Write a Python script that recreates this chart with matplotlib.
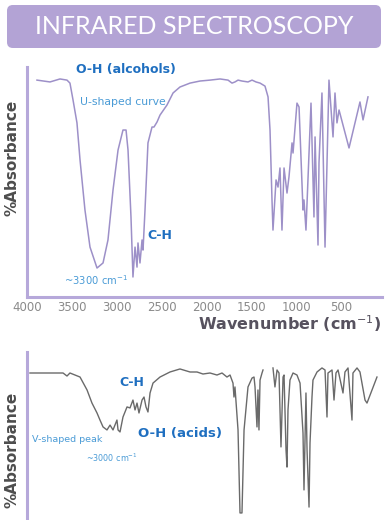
import numpy as np
import matplotlib.pyplot as plt
from matplotlib.patches import FancyBboxPatch

# alcohol spectrum (top), wavenumber in cm-1 and signal (0-100)
alc_wn = [3889, 3744, 3633, 3555, 3522, 3488, 3444, 3410, 3355, 3299,
          3221, 3154, 3099, 3043, 2987, 2932, 2898, 2876, 2843, 2821,
          2798, 2776, 2765, 2743, 2720, 2709, 2687, 2654, 2609, 2587,
          2553, 2520, 2442, 2375, 2298, 2186, 2075, 1964, 1852, 1763,
          1719, 1686, 1652, 1608, 1541, 1496, 1452, 1407, 1352, 1318,
          1296, 1274, 1263, 1229, 1207, 1185, 1163, 1140, 1107, 1085,
          1051, 1040, 996, 973, 929, 918, 896, 840, 807, 795,
          762, 751, 718, 684, 640, 595, 573, 551, 528, 417,
          295, 261, 206]
alc_abs = [94.3, 93.5, 94.8, 94.3, 93.0, 85.7, 75.7, 59.6, 37.8, 21.7,
           12.6, 14.8, 24.8, 46.5, 63.9, 72.6, 72.6, 63.9, 34.8, 8.7,
           21.7, 13.0, 23.5, 14.8, 24.8, 20.4, 37.8, 67.0, 73.9, 73.9,
           76.1, 79.1, 83.5, 88.7, 91.3, 93.0, 93.9, 94.3, 94.8, 94.3,
           93.0, 93.5, 94.3, 93.9, 93.5, 94.3, 93.5, 93.0, 91.7, 87.0,
           72.6, 42.2, 29.1, 50.9, 47.8, 56.1, 29.1, 56.1, 45.2, 52.2,
           67.0, 62.6, 84.3, 82.6, 37.8, 42.2, 29.1, 84.3, 34.8, 69.6,
           22.6, 58.3, 88.7, 21.7, 94.3, 69.6, 88.7, 75.7, 81.3, 64.8,
           84.8, 77.0, 87.0]

# carboxylic acid spectrum (bottom)
acid_wn = [3967, 3599, 3555, 3522, 3410, 3332, 3277, 3221, 3188, 3154,
           3110, 3076, 3043, 2999, 2987, 2965, 2932, 2887, 2854, 2821,
           2798, 2776, 2754, 2720, 2698, 2676, 2654, 2631, 2598, 2520,
           2409, 2298, 2186, 2108, 2042, 1964, 1886, 1830, 1775, 1741,
           1708, 1697, 1686, 1652, 1630, 1608, 1585, 1541, 1496, 1474,
           1463, 1441, 1430, 1419, 1407, 1385, 1374, 1320, 1263, 1241,
           1218, 1196, 1174, 1151, 1140, 1118, 1107, 1096, 1074, 1040,
           996, 962, 929, 918, 896, 884, 862, 851, 829, 818,
           773, 718, 684, 662, 651, 606, 584, 562, 539, 484,
           462, 428, 384, 373, 328, 295, 239, 217, 161, 106]
acid_abs = [87.5, 87.5, 85.7, 87.5, 85.1, 77.4, 69.6, 63.7, 59.5, 55.4,
            53.6, 56.5, 53.6, 59.5, 53.6, 52.4, 61.3, 67.3, 66.7, 71.4,
            65.5, 69.6, 63.7, 71.4, 73.2, 67.3, 64.3, 75.6, 81.5, 85.1,
            88.1, 89.9, 88.1, 88.1, 86.9, 87.5, 86.3, 87.5, 85.1, 86.3,
            81.5, 73.2, 79.2, 53.6, 4.2, 4.2, 53.6, 79.2, 84.5, 85.1,
            79.2, 55.4, 77.4, 53.6, 83.3, 87.5, 89.3, np.nan, 90.5, 79.2,
            89.3, 87.5, 43.5, 85.1, 86.3, 41.7, 31.5, 65.5, 83.3, 87.5,
            86.3, 81.5, 51.8, 17.9, 75.6, 41.7, 7.7, 45.8, 73.2, 83.3,
            88.1, 90.5, 89.3, 61.3, 87.5, 89.3, 71.4, 87.5, 89.3, 75.6,
            88.1, 90.5, 59.5, 87.5, 90.5, 88.1, 71.4, 69.6, 77.4, 85.1]

xticks = [4000, 3500, 3000, 2500, 2000, 1500, 1000, 500]

W, H = 389, 520
lav = '#b6a8da'
blue = '#1f6fc0'
lblue = '#4a9bd6'

fig = plt.figure(figsize=(W / 100, H / 100), dpi=100)

def fx(x):
    return x / W

def fy(y):
    return 1 - y / H

# title bar
fig.patches.append(FancyBboxPatch((fx(7), fy(48)), fx(381) - fx(7), fy(5) - fy(48),
                                  boxstyle='round,pad=0,rounding_size=0.015',
                                  mutation_aspect=W / H, transform=fig.transFigure,
                                  facecolor='#b3a3d5', edgecolor='none'))
fig.text(fx(194), fy(27), 'INFRARED SPECTROSCOPY', color='white', fontsize=18,
         ha='center', va='center', family='Lato')

# top chart
ax1 = fig.add_axes([fx(27), fy(297), fx(382) - fx(27), fy(67) - fy(297)])
ax1.plot(alc_wn, alc_abs, color='#9d90c8', lw=1.1)
ax1.set_xlim(4000, 50)
ax1.set_ylim(0, 100)
ax1.set_xticks(xticks)
ax1.set_yticks([])
ax1.tick_params(axis='x', length=0, pad=3, labelsize=8.5, labelcolor='#8a8a8a')
for s in ['top', 'right']:
    ax1.spines[s].set_visible(False)
for s in ['left', 'bottom']:
    ax1.spines[s].set_color(lav)
    ax1.spines[s].set_linewidth(2.2)
ax1.patch.set_alpha(0)

# bottom chart
ax2 = fig.add_axes([fx(27), 0, fx(382) - fx(27), fy(352)])
ax2.plot(acid_wn, acid_abs, color='#6a6a6a', lw=1.0)
ax2.set_xlim(4000, 50)
ax2.set_ylim(0, 100)
ax2.set_xticks([])
ax2.set_yticks([])
for s in ['top', 'right', 'bottom']:
    ax2.spines[s].set_visible(False)
ax2.spines['left'].set_color(lav)
ax2.spines['left'].set_linewidth(2.2)
ax2.patch.set_alpha(0)

# axis labels
fig.text(fx(12), fy(158), '%Absorbance', rotation=90, ha='center', va='center',
         fontsize=11, weight='bold', color='#4d4d4d')
fig.text(fx(12), fy(450), '%Absorbance', rotation=90, ha='center', va='center',
         fontsize=11, weight='bold', color='#4d4d4d')
fig.text(fx(381), fy(324), 'Wavenumber (cm$^{-1}$)', ha='right', va='center',
         fontsize=11.5, weight='bold', color='#57525f')

# annotations top
fig.text(fx(126), fy(69), 'O-H (alcohols)', ha='center', va='center',
         fontsize=9, weight='bold', color=blue)
fig.text(fx(123), fy(102), 'U-shaped curve', ha='center', va='center',
         fontsize=7.8, color=lblue)
fig.text(fx(160), fy(236), 'C-H', ha='center', va='center',
         fontsize=9, weight='bold', color=blue)
fig.text(fx(96), fy(280), '~3300 cm$^{-1}$', ha='center', va='center',
         fontsize=7.2, color=lblue)

# annotations bottom
fig.text(fx(132), fy(383), 'C-H', ha='center', va='center',
         fontsize=9, weight='bold', color=blue)
fig.text(fx(180), fy(433), 'O-H (acids)', ha='center', va='center',
         fontsize=9.5, weight='bold', color=blue)
fig.text(fx(67), fy(439), 'V-shaped peak', ha='center', va='center',
         fontsize=6.8, color=lblue)
fig.text(fx(112), fy(458), '~3000 cm$^{-1}$', ha='center', va='center',
         fontsize=5.8, color=lblue)

plt.savefig('out.png', dpi=100)
